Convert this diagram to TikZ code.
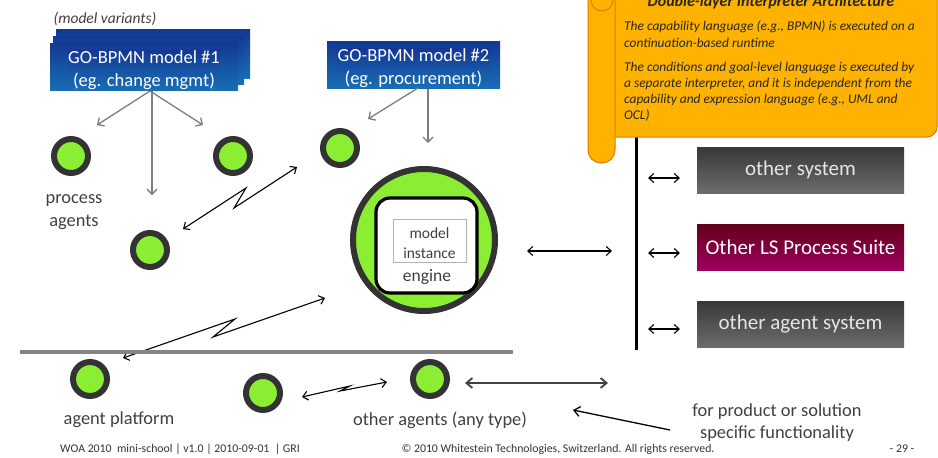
\documentclass[tikz,border=0pt]{standalone}
\usepackage{fontspec}
\setmainfont{Carlito}
\usetikzlibrary{arrows.meta}
\definecolor{agentgreen}{RGB}{140,238,50}
\definecolor{ringgray}{RGB}{51,51,51}
\definecolor{labelgray}{RGB}{64,64,64}
\definecolor{navytop}{RGB}{20,56,148}
\definecolor{navybot}{RGB}{24,110,180}
\definecolor{sysdark}{RGB}{56,56,56}
\definecolor{syslight}{RGB}{108,108,108}
\definecolor{suitetop}{RGB}{98,0,28}
\definecolor{suitebot}{RGB}{158,0,95}
\definecolor{calloutfill}{RGB}{255,178,0}
\definecolor{calloutedge}{RGB}{228,122,0}
\definecolor{feedgray}{RGB}{125,125,125}
\begin{document}
\begin{tikzpicture}[x=1pt,y=-1pt,
  agent/.style={circle,draw=ringgray,line width=6pt,fill=agentgreen,minimum size=34pt,inner sep=0pt},
  modelbox/.style={rectangle,top color=navytop,bottom color=navybot,text=white,align=center,
    font=\fontsize{18.5}{23}\selectfont,inner sep=0pt},
  layerbox/.style={rectangle,top color=navytop,bottom color=navybot,inner sep=0pt},
  sysbox/.style={rectangle,top color=sysdark,bottom color=syslight,text=white!90!black,
    minimum width=207pt,minimum height=46pt,font=\fontsize{21}{24}\selectfont,inner sep=0pt},
  lbl/.style={text=labelgray,align=center,font=\fontsize{18.4}{23}\selectfont,inner sep=0pt},
  feed/.style={feedgray,line width=1.3pt,-{Straight Barb[length=5pt,width=10pt]}},
  link/.style={black,line width=1.1pt,{Straight Barb[length=5pt,width=9pt]}-{Straight Barb[length=5pt,width=9pt]}},
  boldlink/.style={black!75,line width=1.8pt,{Straight Barb[length=6pt,width=10pt]}-{Straight Barb[length=6pt,width=10pt]}},
  footer/.style={text=ringgray,font=\fontsize{11.8}{13}\selectfont,inner sep=0pt},
  calltext/.style={text=black!85,font=\itshape\fontsize{13.4}{16}\selectfont,anchor=base west,inner sep=0pt}
]
\useasboundingbox (0,0) rectangle (938,458);
\clip (0,0) rectangle (938,458);

% ---- model variants (stacked) ----
\node[text=labelgray,font=\itshape\fontsize{15.5}{17}\selectfont,inner sep=0pt] (variants) at (105,19) {(model variants)};
\node[layerbox,minimum width=194pt,minimum height=49pt] (m1c) at (153,53.5) {};
\node[layerbox,minimum width=191pt,minimum height=48pt] (m1b) at (148.5,60) {};
\node[layerbox,minimum width=188pt,minimum height=47pt] (m1) at (144,67) {};
\node[modelbox] (m1t) at (144,70) {GO-BPMN model \#1\\(eg. change mgmt)};
\node[layerbox,minimum width=173pt,minimum height=47pt] (m2) at (413.5,65) {};
\node[modelbox] (m2t) at (413.5,68) {GO-BPMN model \#2\\(eg. procurement)};

% ---- agents ----
\node[agent] (p1) at (71,156) {};
\node[agent] (p2) at (233,156) {};
\node[agent] (p3) at (150,250) {};
\node[agent] (p4) at (340,148) {};
\node[agent] (a1) at (90,379) {};
\node[agent] (a2) at (263,393) {};
\node[agent] (a3) at (430,379) {};
\node[lbl] (procl) at (74,212) {process\\agents};

% ---- engine ----
\node[circle,draw=ringgray,line width=6pt,fill=agentgreen,minimum size=142pt,inner sep=0pt] (eng) at (424,240) {};
\node[rectangle,rounded corners=14pt,draw=black,line width=3.2pt,fill=white,minimum width=101pt,minimum height=95pt] (engbox) at (426.5,245.5) {};
\node[rectangle,draw=black!30,line width=1pt,minimum width=73pt,minimum height=43pt,inner sep=0pt] (inst) at (429.5,241) {};
\node[text=labelgray,align=center,font=\fontsize{15.5}{20}\selectfont,inner sep=0pt] (instl) at (429.5,243) {model\\instance};
\node[lbl,font=\fontsize{17.5}{20}\selectfont] (engl) at (427,277) {engine};

% ---- model feeds ----
\coordinate (m1o) at (150,91);
\coordinate (f1) at (97,125);
\coordinate (f2) at (203,125);
\coordinate (f3) at (152,195);
\draw[feed] (m1o) -- (f1);
\draw[feed] (m1o) -- (f2);
\draw[feed] (m1.south -| f3) -- (f3);
\coordinate (m2o) at (418,88);
\coordinate (f4) at (368,119);
\coordinate (f5) at (428,143);
\draw[feed] (m2o) -- (f4);
\draw[feed] (m2.south -| f5) -- (f5);

% ---- lightning links ----
\coordinate (la) at (183,229);
\coordinate (lb) at (297,167);
\draw[link] (la) -- (246,188) -- (234,208) -- (lb);
\coordinate (lc) at (123,358);
\coordinate (ld) at (325,298);
\draw[link] (lc) -- (235,319) -- (213,337) -- (ld);
\coordinate (le) at (302,397);
\coordinate (lf) at (387,382);
\draw[link] (le) -- (350,386) -- (340,391) -- (lf);

% ---- agent platform separator ----
\draw[black!48,line width=3.5pt] (20,352) -- (513,352);

% ---- external systems ----
\draw[black,line width=3pt] (636,130) -- (636,350);
\coordinate (ea) at (527,251);
\coordinate (eb) at (612,251);
\draw[link] (ea) -- (eb);
\node[sysbox] (sys1) at (800.5,170) {other system};
\node[sysbox,top color=suitetop,bottom color=suitebot,text=white] (sys2) at (800.5,247) {Other LS Process Suite};
\node[sysbox] (sys3) at (800.5,324) {other agent system};
\coordinate (s1a) at (648,178); \coordinate (s1b) at (680,178);
\coordinate (s2a) at (648,253); \coordinate (s2b) at (680,253);
\coordinate (s3a) at (648,329); \coordinate (s3b) at (680,329);
\draw[link] (s1a) -- (s1b);
\draw[link] (s2a) -- (s2b);
\draw[link] (s3a) -- (s3b);

% ---- callout ----
\draw[calloutedge,line width=1pt,fill=calloutfill,rounded corners=10pt] (605,-20) -- (605,137) -- (937,137) -- (937,-20);
\draw[calloutedge,line width=1pt,fill=calloutfill,rounded corners=13pt] (588,-20) -- (588,163) -- (615,163) -- (615,-20);
\draw[calloutedge,line width=1pt,fill=calloutfill] (602,0) circle (11);
\node[font=\bfseries\itshape\fontsize{16}{18}\selectfont,text=black!85,anchor=base,inner sep=0pt] (ctitle) at (771,6)
  {Double-layer Interpreter Architecture};
\node[calltext] (c1) at (624,30) {The capability language (e.g., BPMN) is executed on a};
\node[calltext] (c2) at (624,47) {continuation-based runtime};
\node[calltext] (c3) at (624,71) {The conditions and goal-level language is executed by};
\node[calltext] (c4) at (624,87) {a separate interpreter, and it is independent from the};
\node[calltext] (c5) at (624,103) {capability and expression language (e.g., UML and};
\node[calltext] (c6) at (624,119) {OCL)};

% ---- bottom area ----
\coordinate (ga) at (465,383);
\coordinate (gb) at (608,383);
\draw[boldlink] (ga) -- (gb);
\node[lbl] (platl) at (119,420) {agent platform};
\node[lbl] (othl) at (440,420) {other agents (any type)};
\node[lbl,font=\fontsize{18.4}{22}\selectfont] (prodl) at (777,423) {for product or solution\\specific functionality};
\coordinate (pt) at (573,410);
\coordinate (pfrom) at (670,430);
\draw[black,line width=1.3pt,-{Straight Barb[length=6pt,width=10pt]}] (pfrom) -- (pt);

% ---- footer ----
\node[footer,anchor=west] (foot1) at (60,449) {WOA 2010\ \ mini-school | v1.0 | 2010-09-01\ \ | GRI};
\node[footer] (foot2) at (558,449) {© 2010 Whitestein Technologies, Switzerland. All rights reserved.};
\node[footer] (foot3) at (902,449) {- 29 -};
\end{tikzpicture}
\end{document}
